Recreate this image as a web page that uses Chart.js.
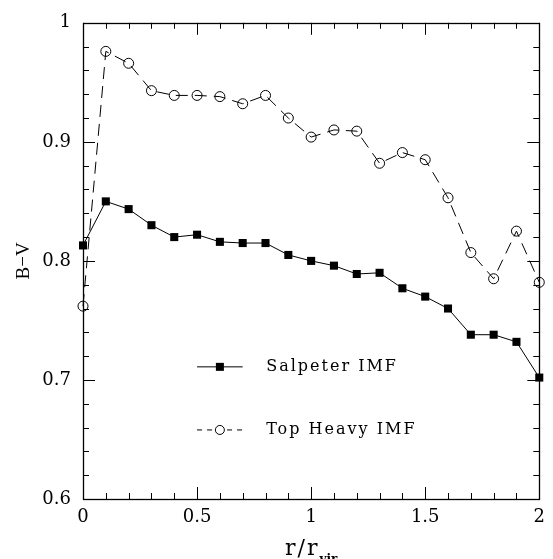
<!DOCTYPE html>
<html>
<head>
<meta charset="utf-8">
<script src="https://cdn.jsdelivr.net/npm/chart.js@4"></script>
<style>
    html, body { margin: 0; padding: 0; background: #fff; }
    #wrap { width: 553px; height: 559px; position: relative; }
</style>
</head>
<body>
<div id="wrap"><canvas id="chart"></canvas></div>
<script>
const radius = [0, 0.1, 0.2, 0.3, 0.4, 0.5, 0.6, 0.7, 0.8, 0.9, 1.0,
    1.1, 1.2, 1.3, 1.4, 1.5, 1.6, 1.7, 1.8, 1.9, 2.0];
const salpeter = [0.813, 0.850, 0.8435, 0.830, 0.820, 0.822, 0.816, 0.815, 0.815, 0.805, 0.800,
    0.796, 0.789, 0.790, 0.777, 0.770, 0.760, 0.738, 0.738, 0.732, 0.702];
const topHeavy = [0.762, 0.976, 0.966, 0.943, 0.939, 0.939, 0.938, 0.932, 0.939, 0.920, 0.904,
    0.910, 0.909, 0.882, 0.891, 0.885, 0.853, 0.807, 0.785, 0.825, 0.782];
const xTickValues = [0, 0.5, 1, 1.5, 2];
const yTickValues = [0.6, 0.7, 0.8, 0.9, 1];
const seriesLabels = ['Salpeter IMF', 'Top Heavy IMF'];

const SERIF = '"DejaVu Serif", "Liberation Serif", serif';
const DASH = [12, 7];

const toPoints = (values) => values.map((v, i) => ({ x: radius[i], y: v }));

// frame + inward ticks on all four sides, PGPLOT style
const frameTicks = {
    id: 'frameTicks',
    afterDatasetsDraw(chart) {
        const { ctx, chartArea: a, scales: { x, y } } = chart;
        ctx.save();
        ctx.strokeStyle = '#000';
        ctx.lineWidth = 1;
        ctx.beginPath();
        for (let i = 0; i <= 20; i += 1) {
            const px = Math.round(x.getPixelForValue(i / 10)) + 0.5;
            const len = i % 5 === 0 ? 12 : 6;
            ctx.moveTo(px, a.bottom); ctx.lineTo(px, a.bottom - len);
            ctx.moveTo(px, a.top); ctx.lineTo(px, a.top + len);
        }
        for (let i = 0; i <= 20; i += 1) {
            const py = Math.round(y.getPixelForValue(0.6 + i * 0.02)) + 0.5;
            const len = i % 5 === 0 ? 12 : 6;
            ctx.moveTo(a.left, py); ctx.lineTo(a.left + len, py);
            ctx.moveTo(a.right, py); ctx.lineTo(a.right - len, py);
        }
        ctx.stroke();
        ctx.lineWidth = 1.3;
        ctx.strokeRect(Math.round(a.left) + 0.5, Math.round(a.top) + 0.5,
            Math.round(a.right - a.left), Math.round(a.bottom - a.top));
        ctx.restore();
    }
};

// in-plot legend, placed in data units
const innerLegend = {
    id: 'innerLegend',
    afterDraw(chart) {
        const { ctx, scales: { x, y } } = chart;
        const rows = [
            { y: 0.711, dash: [], marker: 'square' },
            { y: 0.658, dash: [5, 5], marker: 'circle' }
        ];
        ctx.save();
        ctx.strokeStyle = '#000';
        ctx.fillStyle = '#000';
        ctx.lineWidth = 1;
        rows.forEach((row, i) => {
            const py = y.getPixelForValue(row.y);
            const x0 = x.getPixelForValue(0.5);
            const x1 = x.getPixelForValue(0.7);
            const xm = (x0 + x1) / 2;
            ctx.setLineDash(row.dash);
            ctx.beginPath();
            ctx.moveTo(x0, py); ctx.lineTo(x1, py);
            ctx.stroke();
            ctx.setLineDash([]);
            if (row.marker === 'square') {
                ctx.fillRect(xm - 4, py - 4, 8, 8);
            } else {
                ctx.beginPath();
                ctx.fillStyle = '#fff';
                ctx.arc(xm, py, 4.5, 0, Math.PI * 2);
                ctx.fill();
                ctx.stroke();
                ctx.fillStyle = '#000';
            }
            ctx.font = `16px ${SERIF}`;
            ctx.letterSpacing = '2px';
            ctx.textBaseline = 'middle';
            ctx.textAlign = 'left';
            ctx.fillText(seriesLabels[i], x.getPixelForValue(0.803), py);
        });
        ctx.restore();
    }
};

// axis titles: B−V on the left, r/r_vir below
const axisTitles = {
    id: 'axisTitles',
    afterDraw(chart) {
        const { ctx, chartArea: a } = chart;
        ctx.save();
        ctx.fillStyle = '#000';
        ctx.font = `19px "Liberation Serif", serif`;
        ctx.textAlign = 'center';
        ctx.textBaseline = 'middle';
        ctx.translate(24, (a.top + a.bottom) / 2);
        ctx.rotate(-Math.PI / 2);
        ctx.fillText('B\u2212V', 0, 0);
        ctx.restore();

        ctx.save();
        ctx.fillStyle = '#000';
        ctx.textBaseline = 'alphabetic';
        ctx.textAlign = 'left';
        ctx.font = `22px ${SERIF}`;
        ctx.letterSpacing = '2px';
        const main = 'r/r';
        const mainW = ctx.measureText(main).width;
        ctx.font = `bold 12px ${SERIF}`;
        ctx.letterSpacing = '0px';
        const subW = ctx.measureText('vir').width;
        const start = (a.left + a.right) / 2 - (mainW + subW) / 2;
        ctx.font = `22px ${SERIF}`;
        ctx.letterSpacing = '2px';
        ctx.fillText(main, start, 555);
        ctx.font = `bold 12px ${SERIF}`;
        ctx.letterSpacing = '0px';
        ctx.fillText('vir', start + mainW, 563);
        ctx.restore();
    }
};

const ctx = document.getElementById('chart');
new Chart(ctx, {
    type: 'line',
    data: {
        datasets: [
            {
                label: seriesLabels[0],
                data: toPoints(salpeter),
                borderColor: '#000',
                backgroundColor: '#000',
                borderWidth: 1,
                pointStyle: 'rect',
                pointRadius: 5.7,
                pointBorderWidth: 0,
                tension: 0,
                fill: false,
                clip: false
            },
            {
                label: seriesLabels[1],
                data: toPoints(topHeavy),
                borderColor: '#000',
                backgroundColor: 'rgba(0,0,0,0)',
                borderWidth: 1,
                borderDash: DASH,
                pointStyle: 'circle',
                pointRadius: 5,
                pointBorderWidth: 1,
                pointBackgroundColor: 'rgba(0,0,0,0)',
                tension: 0,
                fill: false,
                clip: false
            }
        ]
    },
    options: {
        responsive: true,
        maintainAspectRatio: false,
        animation: false,
        events: [],
        layout: { padding: { top: 15, right: 11, left: 0, bottom: 0 } },
        plugins: {
            legend: { display: false },
            tooltip: { enabled: false }
        },
        scales: {
            x: {
                type: 'linear',
                min: 0,
                max: 2,
                afterBuildTicks: (scale) => { scale.ticks = xTickValues.map((v) => ({ value: v })); },
                afterFit: (scale) => { scale.height = 60; },
                grid: { display: false, drawTicks: false },
                border: { display: false },
                ticks: {
                    color: '#000',
                    padding: 8,
                    maxRotation: 0,
                    font: { family: SERIF, size: 18 },
                    callback: (v) => String(v)
                }
            },
            y: {
                type: 'linear',
                min: 0.6,
                max: 1,
                afterBuildTicks: (scale) => { scale.ticks = yTickValues.map((v) => ({ value: v })); },
                afterFit: (scale) => { scale.width = 83; },
                grid: { display: false, drawTicks: false },
                border: { display: false },
                ticks: {
                    color: '#000',
                    padding: 12,
                    font: { family: SERIF, size: 18 },
                    callback: (v) => String(Math.round(v * 10) / 10)
                }
            }
        }
    },
    plugins: [frameTicks, innerLegend, axisTitles]
});
</script>
</body>
</html>
